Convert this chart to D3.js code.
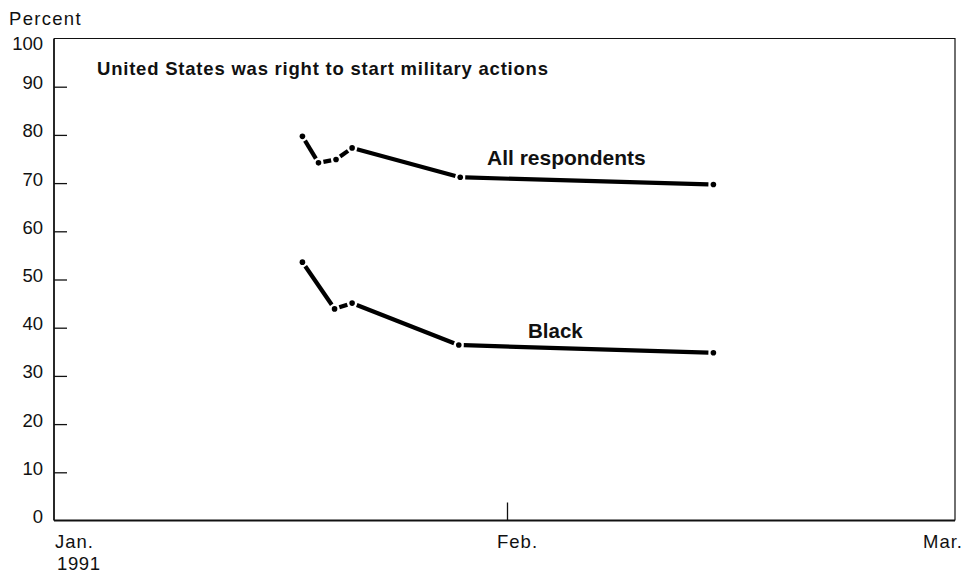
<!DOCTYPE html>
<html>
<head>
<meta charset="utf-8">
<script src="https://cdn.jsdelivr.net/npm/d3@7"></script>
<style>
html,body{margin:0;padding:0;background:#fff;}
text{font-family:"Liberation Sans",Arial,Helvetica,sans-serif;fill:#111;}
</style>
</head>
<body>
<svg id="chart" width="976" height="574"></svg>
<script>
// ---- data ----  (days counted from Jan. 1, 1991)
const allDays   = [17.0, 18.1, 19.3, 20.4, 27.8, 43.9];
const allValues = [79.7, 74.2, 74.9, 77.3, 71.2, 69.7];
const blackDays   = [17.0, 19.2, 20.4, 27.7, 43.9];
const blackValues = [53.6, 43.9, 45.1, 36.4, 34.8];
const yTicks = [0,10,20,30,40,50,60,70,80,90,100];
const xTickDays = [0, 31, 59];
const xTickLabels = ["Jan.","Feb.","Mar."];
const yearLabel = "1991";
const title = "United States was right to start military actions";
const seriesLabels = ["All respondents","Black"];

(function(){
const svg = d3.select("#chart");

const mL = 54, mR = 955, mT = 38.5, mB = 520.5;
const x = d3.scaleLinear().domain(xTickDays).range([mL, 507, mR]);
const y = d3.scaleLinear().domain([0,100]).range([mB, mT]);

// frame (top and right thin)
svg.append("path")
  .attr("d", `M${mL},${mT}H${mR}V${mB}`)
  .attr("fill","none").attr("stroke","#111").attr("stroke-width",1.2);

// y axis
const yAxis = d3.axisRight(y).tickValues(yTicks).tickSize(13).tickFormat("");
const gy = svg.append("g").attr("transform",`translate(${mL},0)`).call(yAxis);
gy.select(".domain").attr("d",`M0,${mT}V${mB}`).attr("stroke","#111").attr("stroke-width",1.8);
gy.selectAll(".tick line").attr("stroke","#111").attr("stroke-width",1.3);
gy.selectAll(".tick").filter(d=>d===0||d===100).select("line").remove();
svg.selectAll(".ylab").data(yTicks).enter().append("text")
  .attr("class","ylab")
  .attr("x",43).attr("y",d=> d===100 ? y(d)+11.5 : y(d)+2.5)
  .attr("text-anchor","end")
  .attr("font-size",18.5)
  .text(d=>d);

svg.append("text").attr("x",9).attr("y",25).attr("font-size",18.5)
  .attr("letter-spacing",1.3).text("Percent");

// x axis
const xAxis = d3.axisTop(x).tickValues([xTickDays[1]]).tickSize(18).tickFormat("");
const gx = svg.append("g").attr("transform",`translate(0,${mB})`).call(xAxis);
gx.select(".domain").attr("d",`M${mL},0H${mR}`).attr("stroke","#111").attr("stroke-width",2);
gx.selectAll(".tick line").attr("stroke","#111").attr("stroke-width",1.3);

svg.selectAll(".xlab").data(xTickLabels).enter().append("text")
  .attr("class","xlab")
  .attr("font-size",18.5)
  .attr("letter-spacing",1)
  .attr("y",548)
  .attr("x",(d,i)=> i===0 ? x(xTickDays[i])+1 : (i===1 ? x(xTickDays[i])-10 : x(xTickDays[i])-32))
  .text(d=>d);
svg.append("text").attr("x",x(xTickDays[0])+3).attr("y",570).attr("font-size",18.5)
  .attr("letter-spacing",0.6).text(yearLabel);

// title
svg.append("text").attr("x",97).attr("y",75).attr("font-size",18.5).attr("font-weight","bold")
  .attr("textLength",451).attr("lengthAdjust","spacing").text(title);

// series drawing: gapped segments + dots
function drawSeries(days, vals){
  const pts = days.map((d,i)=>[x(d), y(vals[i])]);
  const g = svg.append("g");
  const gap = 5;
  for(let i=0;i<pts.length-1;i++){
    const [x1,y1]=pts[i],[x2,y2]=pts[i+1];
    const L=Math.hypot(x2-x1,y2-y1);
    const ux=(x2-x1)/L, uy=(y2-y1)/L;
    g.append("line")
      .attr("x1",x1+ux*gap).attr("y1",y1+uy*gap)
      .attr("x2",x2-ux*gap).attr("y2",y2-uy*gap)
      .attr("stroke","#000").attr("stroke-width",4.2).attr("stroke-linecap","butt");
  }
  g.selectAll("circle").data(pts).enter().append("circle")
    .attr("cx",d=>d[0]).attr("cy",d=>d[1]).attr("r",2.8).attr("fill","#000");
}
drawSeries(allDays, allValues);
drawSeries(blackDays, blackValues);

svg.append("text").attr("x",487).attr("y",165).attr("font-size",21).attr("font-weight","bold").text(seriesLabels[0]);
svg.append("text").attr("x",528).attr("y",338).attr("font-size",20.5).attr("font-weight","bold").text(seriesLabels[1]);
})();
</script>
</body>
</html>
